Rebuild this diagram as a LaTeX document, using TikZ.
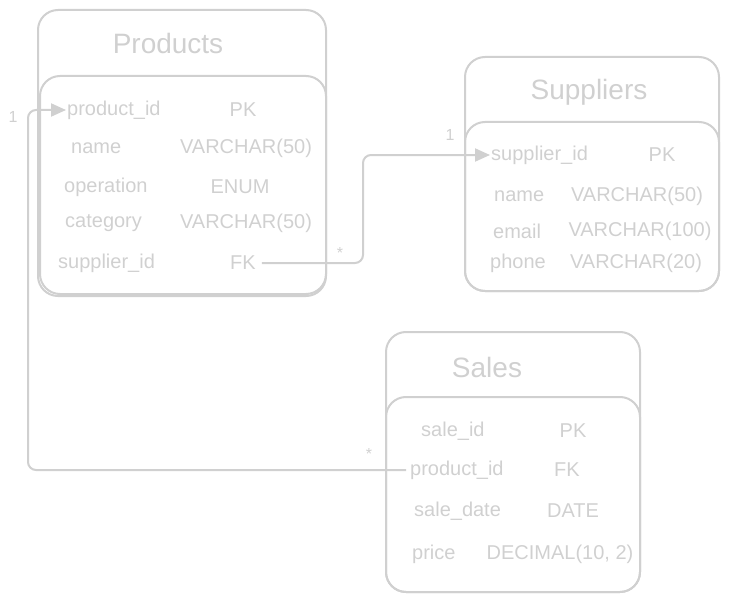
\documentclass[tikz,border=0pt]{standalone}
\usepackage{fontspec}
\setmainfont{Liberation Sans}
\usetikzlibrary{arrows.meta}
\definecolor{sketch}{HTML}{D0D0D0}
\begin{document}
\begin{tikzpicture}[x=1pt,y=-1pt,text=sketch,table box/.style={draw=sketch,line width=2pt,rounded corners=20pt},title node/.style={font=\fontsize{28}{32}\selectfont},col node/.style={font=\fontsize{20}{24}\selectfont,inner sep=1pt},key node/.style={col node,anchor=west},mult node/.style={font=\fontsize{16}{18}\selectfont,inner sep=0pt}]
\useasboundingbox (0,0) rectangle (729,602);
%tables
\draw[table box] (38,10) rectangle (326,296);%products
\draw[table box] (40,76) rectangle (326,294);
\draw[table box] (465,57) rectangle (719,291);%suppliers
\draw[table box] (465,122) rectangle (719,291);
\draw[table box] (386,332) rectangle (640,592);%sales
\draw[table box] (386,397) rectangle (640,592);
\begin{scope}
\node[title node] (prod-title) at (168,43) {Products};
\node[key node] (prod-id) at (66,110) {product\_id};%1
\node[col node] (prod-pk) at (243,110) {PK};
\node[key node] (prod-name) at (70,148) {name};%2
\node[col node] (prod-name-t) at (246,148) {VARCHAR(50)};
\node[key node] (prod-op) at (63,187) {operation};%3
\node[col node] (prod-op-t) at (240,187) {ENUM};
\node[key node] (prod-cat) at (64,223) {category};%4
\node[col node] (prod-cat-t) at (246,223) {VARCHAR(50)};
\node[key node] (prod-sup) at (57,263) {supplier\_id};%5
\node[col node] (prod-fk) at (243,263) {FK};
\end{scope}
\begin{scope}
\node[title node] (sup-title) at (589,92) {Suppliers};
\node[key node] (sup-id) at (490,155) {supplier\_id};%1
\node[col node] (sup-pk) at (662,155) {PK};
\node[key node] (sup-name) at (493,196) {name};%2
\node[col node] (sup-name-t) at (637,196) {VARCHAR(50)};
\node[key node] (sup-mail) at (492,231) {email};%3
\node[col node] (sup-mail-t) at (640,231) {VARCHAR(100)};
\node[key node] (sup-phone) at (489,263) {phone};%4
\node[col node] (sup-phone-t) at (636,263) {VARCHAR(20)};
\end{scope}
\begin{scope}
\node[title node] (sale-title) at (487,367) {Sales};
\node[key node] (sale-id) at (420,431) {sale\_id};%1
\node[col node] (sale-pk) at (573,431) {PK};
\node[key node] (sale-prod) at (409,470) {product\_id};%2
\node[col node] (sale-fk) at (567,470) {FK};
\node[key node] (sale-date) at (413,511) {sale\_date};%3
\node[col node] (sale-date-t) at (573,511) {DATE};
\node[key node] (sale-price) at (411,554) {price};%4
\node[col node] (sale-price-t) at (560,554) {DECIMAL(10, 2)};
\end{scope}
%multiplicities
\node[mult node] (m-sup-many) at (340,253) {*};
\node[mult node] (m-sup-one) at (450,135) {1};
\node[mult node] (m-prod-one) at (13,117) {1};
\node[mult node] (m-sale-many) at (369,454) {*};
\coordinate (bend-sup) at (363,200);
\coordinate (bend-prod) at (28,300);
\begin{scope}[every path/.style={draw=sketch,line width=2pt}]
\draw[shorten <=5pt,-{Triangle[length=15pt,width=13pt]}] (prod-fk.east) [rounded corners=8pt] -| (bend-sup) |- (sup-id.west) [sharp corners];
\draw[shorten <=3pt,-{Triangle[length=15pt,width=13pt]}] (sale-prod.west) [rounded corners=8pt] -| (bend-prod) |- (prod-id.west) [sharp corners];
\end{scope}
\end{tikzpicture}
\end{document}
